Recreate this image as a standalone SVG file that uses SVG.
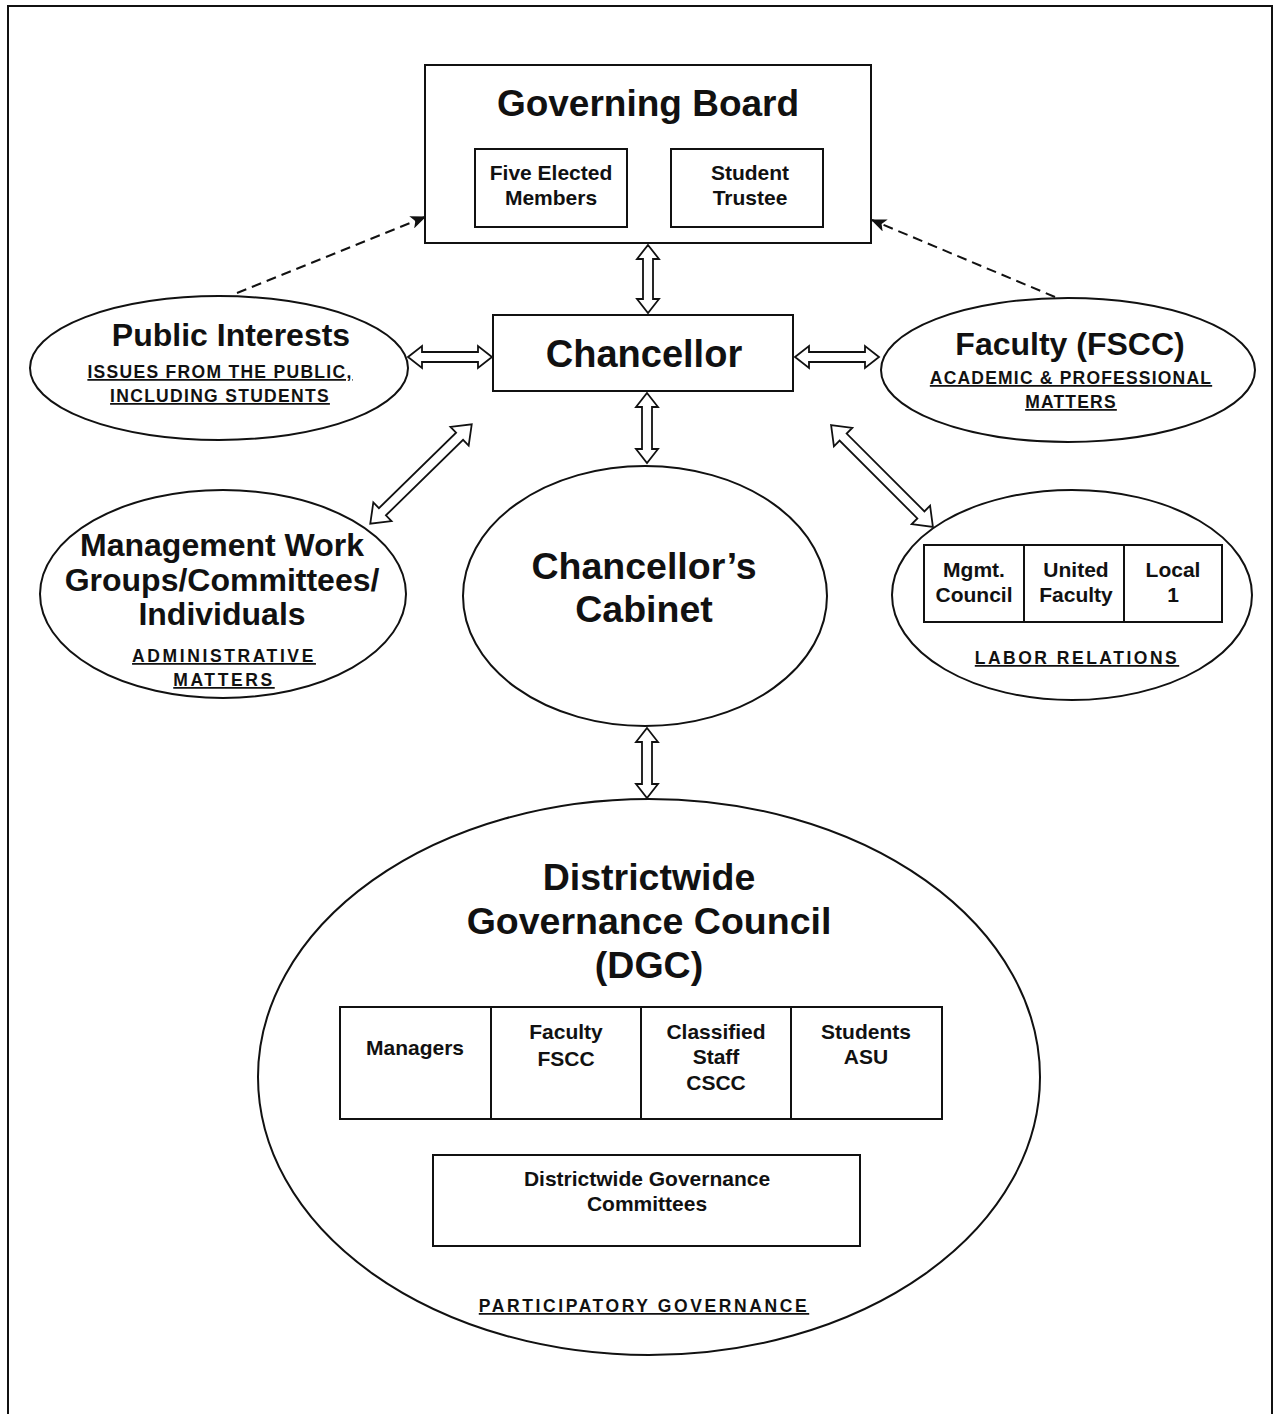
<svg xmlns="http://www.w3.org/2000/svg" width="1273" height="1414" viewBox="0 0 1273 1414">
<defs>
<style>
.box{fill:#fff;stroke:#111;stroke-width:2}
.ell{fill:#fff;stroke:#111;stroke-width:2}
.arr{fill:#fff;stroke:#111;stroke-width:1.8;stroke-linejoin:miter}
.t{font-family:"Liberation Sans",Arial,sans-serif;font-weight:bold;fill:#111;text-anchor:middle}
.big{font-size:37.5px}
.mid{font-size:32px}
.sm{font-size:21px}
.sub{font-size:17.5px;text-decoration:underline}
.dash{fill:none;stroke:#111;stroke-width:2;stroke-dasharray:10 6}
</style>
<marker id="ah2" viewBox="0 0 12 10" refX="11" refY="5" markerWidth="16" markerHeight="13" orient="auto" markerUnits="userSpaceOnUse">
<path d="M0,0 L12,5 L0,10 L3,5 z" fill="#111"/>
</marker>
</defs>
<rect x="0" y="0" width="1273" height="1414" fill="#fff"/>
<rect x="8" y="6" width="1264" height="1420" fill="none" stroke="#111" stroke-width="2"/>

<g id="connectors">
<line class="dash" x1="237" y1="293" x2="425" y2="217" marker-end="url(#ah2)"/>
<line class="dash" x1="1055" y1="297" x2="872" y2="220" marker-end="url(#ah2)"/>
<polygon class="arr" transform="translate(648,279) rotate(90)" points="-34,0 -20,-11 -20,-5 20,-5 20,-11 34,0 20,11 20,5 -20,5 -20,11"/>
<polygon class="arr" transform="translate(450,357)" points="-42,0 -28,-11 -28,-5 28,-5 28,-11 42,0 28,11 28,5 -28,5 -28,11"/>
<polygon class="arr" transform="translate(837,357)" points="-42,0 -28,-11 -28,-5 28,-5 28,-11 42,0 28,11 28,5 -28,5 -28,11"/>
<polygon class="arr" transform="translate(647,428) rotate(90)" points="-35,0 -21,-11 -21,-5 21,-5 21,-11 35,0 21,11 21,5 -21,5 -21,11"/>
<polygon class="arr" transform="translate(647,763) rotate(90)" points="-35,0 -21,-11 -21,-5 21,-5 21,-11 35,0 21,11 21,5 -21,5 -21,11"/>
<polygon class="arr" transform="translate(421,474) rotate(-44.4)" points="-71,0 -54,-13 -54,-5 54,-5 54,-13 71,0 54,13 54,5 -54,5 -54,13"/>
<polygon class="arr" transform="translate(882,476) rotate(45)" points="-72,0 -55,-13 -55,-5 55,-5 55,-13 72,0 55,13 55,5 -55,5 -55,13"/>
</g>

<g id="governing-board">
<rect class="box" x="425" y="65" width="446" height="178"/>
<text class="t" x="648" y="116" font-size="37">Governing Board</text>
<rect class="box" x="475" y="149" width="152" height="78"/>
<text class="t sm" x="551" y="180">Five Elected</text>
<text class="t sm" x="551" y="205">Members</text>
<rect class="box" x="671" y="149" width="152" height="78"/>
<text class="t sm" x="750" y="180">Student</text>
<text class="t sm" x="750" y="205">Trustee</text>
</g>

<g id="chancellor">
<rect class="box" x="493" y="315" width="300" height="76"/>
<text class="t" x="644" y="367" font-size="38">Chancellor</text>
</g>

<g id="public-interests">
<ellipse class="ell" cx="219" cy="368" rx="189" ry="72"/>
<text class="t mid" x="231" y="346">Public Interests</text>
<text class="t sub" x="220" y="378" letter-spacing="1.3">ISSUES FROM THE PUBLIC,</text>
<text class="t sub" x="220" y="402" letter-spacing="1.3">INCLUDING STUDENTS</text>
</g>

<g id="faculty-fscc">
<ellipse class="ell" cx="1068" cy="370" rx="187" ry="72"/>
<text class="t mid" x="1070" y="355">Faculty (FSCC)</text>
<text class="t sub" x="1071" y="384" letter-spacing="1.2">ACADEMIC &amp; PROFESSIONAL</text>
<text class="t sub" x="1071" y="408" letter-spacing="1.2">MATTERS</text>
</g>

<g id="management">
<ellipse class="ell" cx="223" cy="594" rx="183" ry="104"/>
<text class="t mid" x="222" y="556">Management Work</text>
<text class="t mid" x="222" y="591">Groups/Committees/</text>
<text class="t mid" x="222" y="625">Individuals</text>
<text class="t sub" x="224" y="662" letter-spacing="2.6">ADMINISTRATIVE</text>
<text class="t sub" x="224" y="686" letter-spacing="2.6">MATTERS</text>
</g>

<g id="cabinet">
<ellipse class="ell" cx="645" cy="596" rx="182" ry="130"/>
<text class="t big" x="644" y="579">Chancellor’s</text>
<text class="t big" x="644" y="622">Cabinet</text>
</g>

<g id="labor-relations">
<ellipse class="ell" cx="1072" cy="595" rx="180" ry="105"/>
<rect class="box" x="924" y="545" width="298" height="77"/>
<line x1="1024" y1="545" x2="1024" y2="622" stroke="#111" stroke-width="2"/>
<line x1="1124" y1="545" x2="1124" y2="622" stroke="#111" stroke-width="2"/>
<text class="t sm" x="974" y="577">Mgmt.</text>
<text class="t sm" x="974" y="602">Council</text>
<text class="t sm" x="1076" y="577">United</text>
<text class="t sm" x="1076" y="602">Faculty</text>
<text class="t sm" x="1173" y="577">Local</text>
<text class="t sm" x="1173" y="602">1</text>
<text class="t sub" x="1077" y="664" letter-spacing="2.5">LABOR RELATIONS</text>
</g>

<g id="dgc">
<ellipse class="ell" cx="649" cy="1077" rx="391" ry="278"/>
<text class="t big" x="649" y="890">Districtwide</text>
<text class="t big" x="649" y="934">Governance Council</text>
<text class="t big" x="649" y="978">(DGC)</text>
<rect class="box" x="340" y="1007" width="602" height="112"/>
<line x1="491" y1="1007" x2="491" y2="1119" stroke="#111" stroke-width="2"/>
<line x1="641" y1="1007" x2="641" y2="1119" stroke="#111" stroke-width="2"/>
<line x1="791" y1="1007" x2="791" y2="1119" stroke="#111" stroke-width="2"/>
<text class="t sm" x="415" y="1055">Managers</text>
<text class="t sm" x="566" y="1039">Faculty</text>
<text class="t sm" x="566" y="1066">FSCC</text>
<text class="t sm" x="716" y="1039">Classified</text>
<text class="t sm" x="716" y="1064">Staff</text>
<text class="t sm" x="716" y="1090">CSCC</text>
<text class="t sm" x="866" y="1039">Students</text>
<text class="t sm" x="866" y="1064">ASU</text>
<rect class="box" x="433" y="1155" width="427" height="91"/>
<text class="t sm" x="647" y="1186">Districtwide Governance</text>
<text class="t sm" x="647" y="1211">Committees</text>
<text class="t sub" x="644" y="1312" letter-spacing="2.6">PARTICIPATORY GOVERNANCE</text>
</g>
</svg>
